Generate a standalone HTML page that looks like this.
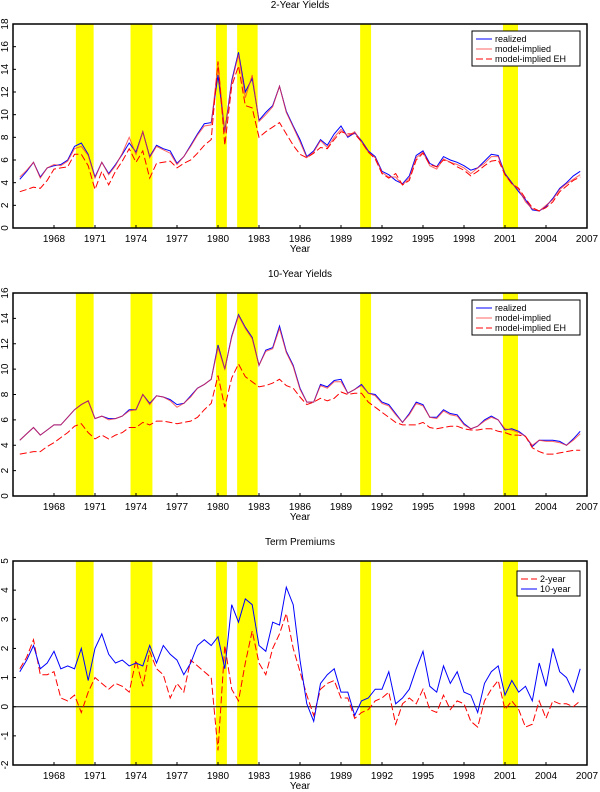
<!DOCTYPE html>
<html><head><meta charset="utf-8"><style>
body{margin:0;background:#fff;}
svg{display:block;font-family:"Liberation Sans",sans-serif;}
</style></head><body>
<svg id="c" width="600" height="792" xmlns="http://www.w3.org/2000/svg"></svg>
<script>
const dates=[];for(let i=0;i<83;i++)dates.push(1965.5+i*0.5);
const recStart=[1969.6,1973.6,1979.85,1981.4,1990.4,2000.85];
const recEnd=[1970.9,1975.2,1980.65,1982.9,1991.2,2001.95];
const xTicks=[1968,1971,1974,1977,1980,1983,1986,1989,1992,1995,1998,2001,2004,2007];
const y2Real=[4.3,5.0,5.8,4.5,5.3,5.5,5.6,6.0,7.2,7.5,6.5,4.5,5.8,4.8,5.6,6.5,7.5,6.7,8.5,6.3,7.3,7.0,6.8,5.7,6.3,7.3,8.3,9.2,9.3,13.5,8.5,13.0,15.5,12.0,13.2,9.5,10.2,10.8,12.5,10.3,9.0,7.8,6.3,6.8,7.8,7.3,8.3,9.0,8.0,8.4,7.7,6.8,6.3,5.0,4.7,4.2,3.9,4.6,6.4,6.8,5.7,5.4,6.3,6.0,5.8,5.5,5.1,5.3,5.9,6.5,6.4,4.8,4.0,3.2,2.5,1.6,1.5,1.9,2.6,3.5,4.0,4.6,5.0];
const y2Model=[4.5,5.1,5.8,4.4,5.3,5.6,5.5,5.9,7.0,7.2,6.4,4.4,5.8,4.7,5.5,6.6,8.0,6.5,8.5,6.2,7.2,6.9,6.6,5.6,6.3,7.2,8.2,9.0,9.1,14.5,8.4,12.8,15.3,11.5,13.5,9.4,10.0,10.7,12.5,10.2,8.9,7.6,6.2,6.7,7.7,7.1,8.0,8.7,8.1,8.5,7.6,6.7,6.2,4.9,4.5,4.5,3.8,4.4,6.2,6.7,5.5,5.2,6.1,5.8,5.6,5.3,4.8,5.3,5.7,6.3,6.3,4.7,3.9,3.4,2.3,1.7,1.5,2.0,2.5,3.4,3.9,4.3,4.7];
const y2EH=[3.2,3.4,3.6,3.5,4.2,5.2,5.3,5.4,6.5,6.5,5.5,3.4,5.0,3.8,5.0,5.9,7.0,5.8,6.8,4.4,5.7,5.8,5.9,5.3,5.7,6.0,6.6,7.3,7.8,14.7,7.3,12.5,14.3,10.8,10.6,8.0,8.5,8.9,9.3,8.3,7.3,6.5,6.2,6.6,7.1,7.0,7.8,8.5,8.3,8.3,7.6,6.7,6.1,4.8,4.4,4.8,3.8,4.2,6.0,6.6,5.6,5.4,6.0,5.8,5.4,5.1,4.6,5.0,5.5,5.9,6.0,4.7,3.9,3.5,2.6,1.8,1.5,1.8,2.3,3.2,3.7,4.2,4.5];
const y10Real=[4.4,4.9,5.4,4.8,5.2,5.6,5.6,6.2,6.8,7.2,7.5,6.1,6.3,6.1,6.1,6.3,6.8,6.8,8.0,7.3,7.9,7.8,7.6,7.2,7.3,7.9,8.5,8.8,9.2,11.9,10.0,12.6,14.3,13.3,12.5,10.3,11.5,11.7,13.4,11.4,10.3,8.5,7.4,7.4,8.8,8.6,9.1,9.2,8.1,8.4,8.8,8.1,8.0,7.4,7.2,6.5,5.8,6.5,7.4,7.2,6.2,6.2,6.8,6.5,6.4,5.7,5.3,5.5,6.0,6.3,6.0,5.2,5.3,5.1,4.7,3.9,4.4,4.4,4.4,4.3,4.0,4.5,5.1];
const y10Model=[4.4,4.9,5.4,4.8,5.2,5.6,5.6,6.2,6.8,7.2,7.5,6.1,6.3,6.0,6.1,6.3,6.7,6.8,8.0,7.2,7.9,7.8,7.5,7.0,7.3,7.8,8.5,8.8,9.2,11.7,10.0,12.5,14.2,13.2,12.4,10.3,11.4,11.6,13.2,11.3,10.2,8.4,7.4,7.4,8.7,8.5,9.0,9.0,8.1,8.4,8.7,8.1,7.9,7.3,7.1,6.4,5.8,6.4,7.3,7.1,6.2,6.1,6.7,6.4,6.3,5.6,5.3,5.5,5.9,6.2,6.0,5.3,5.2,5.0,4.7,4.0,4.4,4.3,4.3,4.2,4.0,4.4,4.9];
const y10EH=[3.3,3.4,3.5,3.5,3.9,4.2,4.6,5.0,5.5,5.7,5.0,4.5,4.8,4.5,4.8,5.0,5.4,5.4,5.8,5.6,5.9,5.9,5.8,5.7,5.8,5.9,6.2,6.8,7.3,9.5,7.0,9.3,10.4,9.4,9.0,8.6,8.7,8.9,9.2,8.7,8.5,7.8,7.2,7.4,7.7,7.5,7.7,8.2,8.0,8.1,8.1,7.4,7.0,6.6,6.2,5.8,5.6,5.6,5.6,5.8,5.4,5.3,5.4,5.5,5.5,5.3,5.2,5.2,5.3,5.3,5.1,5.0,4.8,4.8,4.7,3.8,3.5,3.3,3.3,3.4,3.5,3.6,3.6];
const tp2=[1.3,1.7,2.3,1.1,1.1,1.2,0.3,0.2,0.4,-0.2,0.5,1.0,0.8,0.6,0.8,0.7,0.5,1.6,0.7,1.9,1.3,1.1,0.3,0.8,0.5,1.6,1.4,1.2,1.0,-1.5,2.1,0.6,0.2,1.5,2.6,1.5,1.1,2.0,2.5,3.2,2.0,1.2,0.4,-0.3,0.6,0.8,0.9,0.3,0.3,-0.4,-0.2,-0.1,0.2,0.3,0.5,-0.6,0.1,0.3,0.1,0.6,-0.1,-0.2,0.4,-0.1,0.2,0.1,-0.5,-0.7,0.2,0.6,0.9,-0.1,0.2,-0.1,-0.7,-0.6,0.2,-0.4,0.2,0.1,0.1,0.0,0.2];
const tp10=[1.2,1.6,2.1,1.3,1.5,1.9,1.3,1.4,1.3,2.0,0.9,2.0,2.5,1.8,1.5,1.6,1.4,1.5,1.4,2.1,1.5,2.1,1.8,1.6,1.1,1.5,2.1,2.3,2.1,2.4,1.3,3.5,2.9,3.7,3.5,2.1,1.9,2.9,2.8,4.1,3.5,1.6,0.1,-0.5,0.8,1.1,1.3,0.5,0.5,-0.3,0.2,0.3,0.6,0.6,1.2,0.1,0.3,0.6,1.3,1.9,0.7,0.5,1.4,0.8,1.2,0.5,0.4,-0.2,0.8,1.2,1.4,0.4,0.9,0.5,0.7,0.2,1.5,0.7,2.0,1.2,1.0,0.5,1.3];

const NS="http://www.w3.org/2000/svg";
const svg=document.getElementById('c');
function mk(tag,attrs,parent){const e=document.createElementNS(NS,tag);for(const k in attrs)e.setAttribute(k,attrs[k]);(parent||svg).appendChild(e);return e;}
const X0=13,X1=587,D0=1965,D1=2007;
function xs(d){return X0+(d-D0)/(D1-D0)*(X1-X0);}

function panel(cfg){
  const g=mk('g',{});
  
  
  const ys=v=>cfg.bot-(v-cfg.ymin)/(cfg.ymax-cfg.ymin)*(cfg.bot-cfg.top);
  const t=mk('text',{x:300,y:cfg.top-16,'text-anchor':'middle','font-size':10,fill:'#000'},g);t.textContent=cfg.title;
  
  
  for(let i=0;i<recStart.length;i++){
    const r=mk('rect',{x:xs(recStart[i]),y:cfg.top,width:xs(recEnd[i])-xs(recStart[i]),height:cfg.bot-cfg.top,fill:'#ffff00'},g);
    
    
  }
  if(cfg.zero){const z=mk('line',{x1:X0,x2:X1,y1:ys(0),y2:ys(0),stroke:'#000','stroke-width':1},g);
    
    }
  cfg.series.forEach(s=>{
    let d='';s.vals.forEach((v,i)=>{d+=(i?'L':'M')+xs(dates[i]).toFixed(1)+','+ys(v).toFixed(1);});
    const p=mk('path',{d:d,fill:'none',stroke:s.color,'stroke-width':1,'stroke-dasharray':s.dash||'none','stroke-opacity':s.op||1},g);
    
    
  });
  const f=mk('rect',{x:X0,y:cfg.top,width:X1-X0,height:cfg.bot-cfg.top,fill:'none',stroke:'#000','stroke-width':1.5},g);
  
  
  for(let v=cfg.ymin;v<=cfg.ymax;v+=cfg.ystep){
    const y=ys(v);
    mk('line',{x1:X0,x2:X0+3,y1:y,y2:y,stroke:'#000'},g);
    const l=mk('text',{x:8,y:y,'font-size':10,'text-anchor':'middle',transform:`rotate(-90 8 ${y})`,fill:'#000'},g);
    l.textContent=v;
    
    
  }
  xTicks.forEach(yr=>{
    const x=xs(yr);
    mk('line',{x1:x,x2:x,y1:cfg.bot,y2:cfg.bot-3,stroke:'#000'},g);
    const l=mk('text',{x:x,y:cfg.bot+14,'font-size':10,'text-anchor':'middle',fill:'#000'},g);
    l.textContent=yr;
    
    
  });
  const xl=mk('text',{x:300,y:cfg.bot+24,'font-size':10,'text-anchor':'middle',fill:'#000'},g);
  xl.textContent='Year';
  
  
  const L=cfg.legend;
  const lg=mk('g',{},g);
  
  
  mk('rect',{x:L.x,y:L.y,width:L.w,height:cfg.series.length*10+5,fill:'#fff',stroke:'#000'},lg);
  cfg.series.forEach((s,i)=>{
    const yy=L.y+8+i*10;
    mk('line',{x1:L.x+4,x2:L.x+20,y1:yy,y2:yy,stroke:s.color,'stroke-dasharray':s.dash||'none','stroke-opacity':s.op||1},lg);
    const tx=mk('text',{x:L.x+23,y:yy+3,'font-size':9,fill:'#000'},lg);
    tx.textContent=s.label;
    
    
  });
}
panel({name:'two-year-yields-panel',title:'2-Year Yields',top:24,bot:228,ymin:0,ymax:18,ystep:2,
  legend:{x:472,y:31,w:108},
  series:[{id:'realized-line',label:'realized',vals:y2Real,color:'#0000ff'},
          {id:'model-implied-line',label:'model-implied',vals:y2Model,color:'#ff3030',op:0.75},
          {id:'model-implied-eh-line',label:'model-implied  EH',vals:y2EH,color:'#ff0000',dash:'7,3'}]});
panel({name:'ten-year-yields-panel',title:'10-Year Yields',top:293,bot:496,ymin:0,ymax:16,ystep:2,
  legend:{x:472,y:300,w:108},
  series:[{id:'realized-line',label:'realized',vals:y10Real,color:'#0000ff'},
          {id:'model-implied-line',label:'model-implied',vals:y10Model,color:'#ff3030',op:0.75},
          {id:'model-implied-eh-line',label:'model-implied  EH',vals:y10EH,color:'#ff0000',dash:'7,3'}]});
panel({name:'term-premiums-panel',title:'Term Premiums',top:561,bot:765,ymin:-2,ymax:5,ystep:1,zero:true,
  legend:{x:517,y:571,w:63},
  series:[{id:'two-year-premium-line',label:'2-year',vals:tp2,color:'#ff0000',dash:'7,3'},
          {id:'ten-year-premium-line',label:'10-year',vals:tp10,color:'#0000ff'}]});
</script>
</body></html>
